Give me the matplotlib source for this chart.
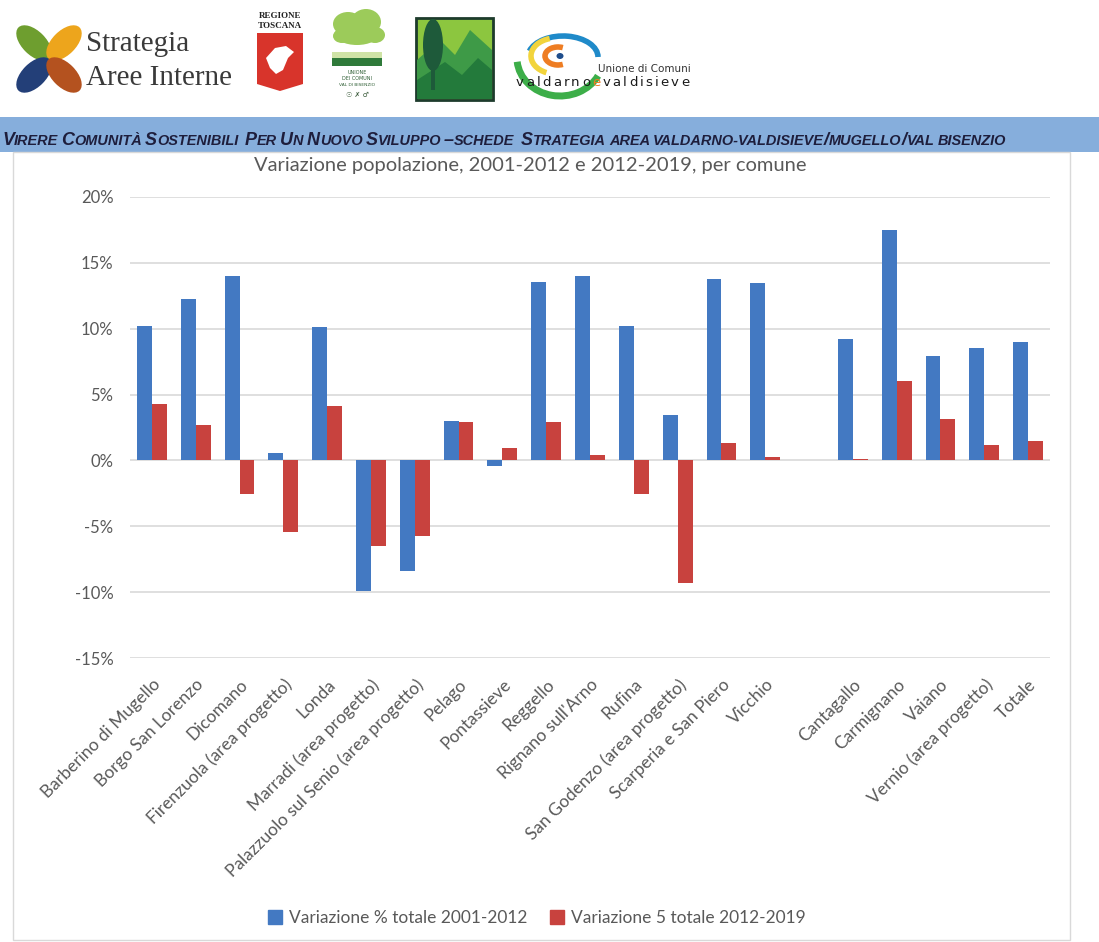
import matplotlib
matplotlib.use("Agg")
import matplotlib.pyplot as plt
import numpy as np
from matplotlib.patches import Rectangle, Ellipse, Polygon, Arc, Patch

# ---------------- data ----------------
comuni = ["Barberino di Mugello", "Borgo San Lorenzo", "Dicomano",
          "Firenzuola (area progetto)", "Londa", "Marradi (area progetto)",
          "Palazzuolo sul Senio (area progetto)", "Pelago", "Pontassieve",
          "Reggello", "Rignano sull'Arno", "Rufina",
          "San Godenzo (area progetto)", "Scarperia e San Piero", "Vicchio",
          "", "Cantagallo", "Carmignano", "Vaiano", "Vernio (area progetto)",
          "Totale"]
var_2001_2012 = [10.2, 12.25, 14.0, 0.55, 10.15, -9.9, -8.35, 3.0, -0.4,
                 13.5, 14.0, 10.2, 3.45, 13.75, 13.45, np.nan,
                 9.2, 17.5, 7.95, 8.5, 8.95]
var_2012_2019 = [4.3, 2.7, -2.55, -5.45, 4.15, -6.5, -5.7, 2.9, 0.95,
                 2.9, 0.4, -2.55, -9.3, 1.3, 0.25, np.nan,
                 0.12, 6.05, 3.15, 1.15, 1.45]
y_ticks = [-15, -10, -5, 0, 5, 10, 15, 20]
title = "Variazione popolazione, 2001-2012 e 2012-2019, per comune"
label_a = "Variazione % totale 2001-2012"
label_b = "Variazione 5 totale 2012-2019"
header = ("Virere Comunità Sostenibili  Per Un Nuovo Sviluppo \u2013schede  "
          "Strategia area valdarno-valdisieve/mugello/val bisenzio")

BLUE = "#4379C2"
RED = "#C8423E"
GRAY = "#595959"

W, H = 1099, 942
fig = plt.figure(figsize=(W / 100, H / 100), dpi=100)

# overlay axes in pixel coordinates for page decorations
deco = fig.add_axes([0, 0, 1, 1], zorder=0)
deco.set_xlim(0, W)
deco.set_ylim(H, 0)
deco.axis("off")
renderer = fig.canvas.get_renderer()

# ---------------- logos ----------------
# Strategia Aree Interne
cx, cy = 49, 59
petals = [(-1, -1, "#6E9E2F"), (1, -1, "#EDA51C"), (-1, 1, "#233F78"), (1, 1, "#B4521F")]
for sx, sy, col in petals:
    ang = 45 if sx * sy > 0 else -45
    deco.add_patch(Ellipse((cx + sx * 15, cy + sy * 16), 44, 24, angle=ang,
                           color=col, lw=0))
deco.text(86, 44, "Strategia", family="Liberation Serif", fontsize=21,
          color="#3a3a3a", va="center", ha="left")
deco.text(86, 78, "Aree Interne", family="Liberation Serif", fontsize=21,
          color="#3a3a3a", va="center", ha="left")

# Regione Toscana
deco.text(280, 16, "REGIONE", family="Liberation Serif", fontsize=6.5,
          weight="bold", ha="center", va="center", color="#222222")
deco.text(280, 26, "TOSCANA", family="Liberation Serif", fontsize=6.5,
          weight="bold", ha="center", va="center", color="#222222")
deco.add_patch(Polygon([[257, 33], [303, 33], [303, 84], [280, 91], [257, 84]],
                       closed=True, color="#D8342B", lw=0))
deco.add_patch(Polygon([[266, 58], [275, 48], [286, 46], [294, 52], [288, 58],
                        [283, 70], [276, 74], [270, 68]],
                       closed=True, color="white", lw=0))

# Unione dei Comuni Val di Bisenzio
for ex, ey, ew, eh in [(348, 24, 30, 24), (366, 22, 30, 26), (357, 34, 44, 22),
                       (342, 36, 18, 14), (375, 35, 20, 16)]:
    deco.add_patch(Ellipse((ex, ey), ew, eh, color="#9CCB5A", lw=0))
deco.add_patch(Rectangle((332, 52), 50, 6, color="#CFE3A6", lw=0))
deco.add_patch(Rectangle((332, 58), 50, 8, color="#2F7A3A", lw=0))
deco.text(357, 73, "UNIONE", fontsize=3.5, ha="center", va="center", color="#2F5F35")
deco.text(357, 79, "DEI COMUNI", fontsize=3.5, ha="center", va="center", color="#2F5F35")
deco.text(357, 85, "VAL DI BISENZIO", fontsize=3.2, ha="center", va="center", color="#2F5F35")
deco.text(357, 95, "\u2609 \u2717 \u2642", fontsize=5, ha="center", va="center", color="#3b5b3b")

# green square logo
deco.add_patch(Rectangle((416, 18), 77, 82, facecolor="#8CC63F",
                         edgecolor="#1D3B2C", lw=2))
deco.add_patch(Polygon([[417, 60], [440, 40], [455, 55], [470, 30], [492, 50],
                        [492, 99], [417, 99]], closed=True, color="#3E9A47", lw=0))
deco.add_patch(Polygon([[417, 80], [445, 62], [462, 75], [478, 58], [492, 70],
                        [492, 99], [417, 99]], closed=True, color="#237A3B", lw=0))
deco.add_patch(Ellipse((433, 45), 20, 52, color="#1E5A3A", lw=0))
deco.add_patch(Rectangle((431, 68), 4, 22, color="#1E5A3A", lw=0))

# Valdarno e Valdisieve logo
deco.add_patch(Arc((560, 58), 86, 76, theta1=25, theta2=175, color="#3DAE49", lw=5))
deco.add_patch(Arc((563, 57), 70, 42, theta1=190, theta2=360, color="#1F8AC9", lw=4))
deco.add_patch(Arc((556, 56), 50, 36, theta1=120, theta2=250, color="#F2D43C", lw=4))
deco.add_patch(Arc((558, 56), 26, 18, theta1=60, theta2=300, color="#EE7D23", lw=4))
deco.add_patch(Ellipse((560, 56), 7, 6, color="#1F4E8C", lw=0))
deco.text(598, 69, "Unione di Comuni", fontsize=7.5, color="#333333",
          ha="left", va="center")
x_v = 516
for i, ch in enumerate("valdarnoevaldisieve"):
    col = "#EE7D23" if i == 8 else "#1a1a1a"
    t = deco.text(x_v, 86, ch, fontsize=9.5, color=col, ha="left",
                  va="baseline", family="DejaVu Sans")
    x_v += t.get_window_extent(renderer).width + 2.2

# ---------------- header band ----------------
deco.add_patch(Rectangle((0, 117), W, 35, color="#86AEDC", lw=0))
HFONT = ["Liberation Sans Narrow", "Liberation Sans"]


def draw_smallcaps(text, x0, yc, big, small):
    x = x0
    texts = []
    runs = []
    cur, cur_big = "", None
    for ch in text:
        if ch == " ":
            if cur:
                runs.append((cur, cur_big))
            runs.append((" ", None))
            cur, cur_big = "", None
            continue
        isbig = (ch.isupper() or (not ch.isalpha() and ch != "-"))
        if cur_big is None or isbig == cur_big:
            cur += ch
            cur_big = isbig
        else:
            runs.append((cur, cur_big))
            cur, cur_big = ch, isbig
    if cur:
        runs.append((cur, cur_big))
    for s, isbig in runs:
        if isbig is None:
            x += small * 0.30
            continue
        fs = big if isbig else small
        t = deco.text(x, yc, s.upper(), fontsize=fs, family=HFONT,
                      weight="bold", style="italic", color="#1E1E3C",
                      ha="left", va="baseline")
        bb = t.get_window_extent(renderer)
        x += bb.width
        texts.append(t)
    return x, texts


end, tx = draw_smallcaps(header, 2, 145, 13, 10.5)
scale = (1010 - 2) / (end - 2)
for t in tx:
    t.remove()
draw_smallcaps(header, 2, 145, 13 * scale, 10.5 * scale)

# chart area border
deco.add_patch(Rectangle((13, 152), 1070 - 13, 940 - 152, fill=False,
                         edgecolor="#D9D9D9", lw=1))

# ---------------- chart ----------------
L, R = 130, 1050
TOP, BOT = 196.7, 658.3
ax = fig.add_axes([L / W, 1 - BOT / H, (R - L) / W, (BOT - TOP) / H], zorder=1)
ax.patch.set_alpha(0)

x = np.arange(len(comuni))
bw = 0.34
ax.bar(x - bw / 2, var_2001_2012, width=bw, color=BLUE, zorder=3, label=label_a)
ax.bar(x + bw / 2, var_2012_2019, width=bw, color=RED, zorder=3, label=label_b)

ax.set_xlim(-0.5, len(comuni) - 0.5)
ax.set_ylim(-15, 20)
ax.set_yticks(y_ticks)
ax.set_yticklabels([f"{v}%" for v in y_ticks], fontsize=12, color=GRAY,
                   family="Lato")
ax.yaxis.grid(True, color="#D9D9D9", lw=1.2, zorder=0)
ax.set_axisbelow(True)
for s in ax.spines.values():
    s.set_visible(False)
ax.tick_params(axis="y", length=0, pad=12)
ax.tick_params(axis="x", length=0, pad=13)
ax.set_xticks(x)
ax.set_xticklabels(comuni, rotation=45, ha="right", rotation_mode="anchor",
                   fontsize=12.5, color=GRAY, family="Lato")

fig.text(530 / W, 1 - 165 / H, title, ha="center", va="center", fontsize=14.5,
         color=GRAY, family="Lato")

handles = [Patch(color=BLUE), Patch(color=RED)]
fig.legend(handles, [label_a, label_b], loc="center",
           bbox_to_anchor=(537 / W, 1 - 918 / H), ncol=2, frameon=False,
           prop={"family": "Lato", "size": 12.5}, labelcolor=GRAY,
           handlelength=0.8, handleheight=0.8, handletextpad=0.4,
           columnspacing=1.3)

fig.savefig("out.png", dpi=100)
